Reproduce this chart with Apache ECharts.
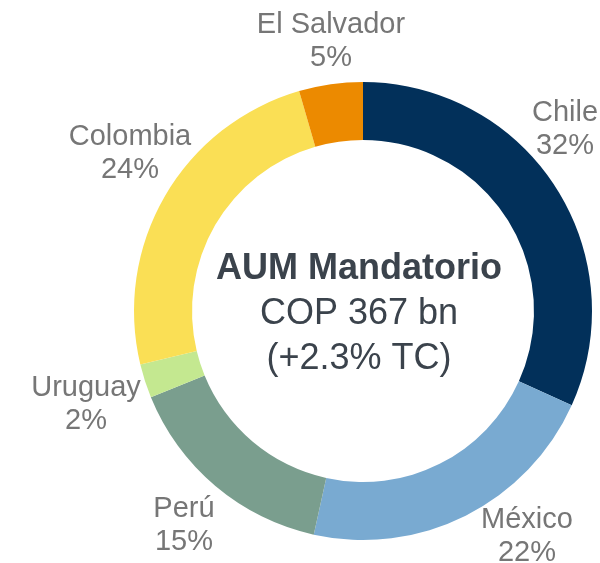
<!DOCTYPE html>
<html>
<head>
<meta charset="utf-8">
<title>AUM Mandatorio</title>
<script src="https://cdn.jsdelivr.net/npm/echarts@6/dist/echarts.min.js"></script>
<style>
    html, body { margin: 0; padding: 0; background: #ffffff; }
    #aumChart { width: 600px; height: 563px; }
</style>
</head>
<body>
<div id="aumChart"></div>
<script>

var paises = ['Chile', 'México', 'Perú', 'Uruguay', 'Colombia', 'El Salvador'];
var participacion = [31.75, 21.7, 15.4, 2.4, 24.25, 4.5];   /* % del AUM */
var colores = ['#02305A', '#79AAD1', '#7A9E8E', '#C4E890', '#FADF55', '#EC8A00'];

/* centro de cada etiqueta (en px), como en la lamina original */
var posEtiquetas = [[565, 129], [527, 536], [184, 525], [86, 404], [130, 153], [331, 41]];

var tituloCentro = 'AUM Mandatorio';
var lineasCentro = ['COP 367 bn', '(+2.3% TC)'];

function loadAumChart() {

    var aumChart = echarts.init(document.getElementById('aumChart'));

    var datos = [];
    for (var i = 0; i < paises.length; i++) {
        datos.push({
            value: participacion[i],
            name: paises[i],
            itemStyle: {color: colores[i]}
        });
    }

    var option = {
        backgroundColor: '#ffffff',
        animation: false,
        textStyle: {fontFamily: 'Liberation Sans, Arial, sans-serif'},
        graphic: [
            {
                type: 'text',
                x: 359,
                y: 314,
                style: {
                    text: '{b|' + tituloCentro + '}\n{n|' + lineasCentro[0] + '}\n{n|' + lineasCentro[1] + '}',
                    align: 'center',
                    verticalAlign: 'middle',
                    rich: {
                        b: {
                            fontSize: 36, fontWeight: 'bold', lineHeight: 45,
                            fill: '#3B434C', fontFamily: 'Liberation Sans, Arial, sans-serif'
                        },
                        n: {
                            fontSize: 36, lineHeight: 45,
                            fill: '#3B434C', fontFamily: 'Liberation Sans, Arial, sans-serif'
                        }
                    }
                }
            }
        ],
        series: [
            {
                name: 'AUM Mandatorio',
                type: 'pie',
                center: [363, 311],
                radius: [171, 229],
                startAngle: 90,
                clockwise: true,
                avoidLabelOverlap: false,
                percentPrecision: 0,
                label: {
                    show: true,
                    position: 'outside',
                    formatter: '{b}\n{d}%',
                    color: '#767676',
                    fontSize: 29,
                    lineHeight: 33,
                    fontFamily: 'Liberation Sans, Arial, sans-serif'
                },
                labelLine: {show: false},
                labelLayout: function (params) {
                    var p = posEtiquetas[params.dataIndex];
                    return {x: p[0], y: p[1], align: 'center', verticalAlign: 'middle'};
                },
                emphasis: {disabled: true},
                data: datos
            }
        ]
    };

    aumChart.setOption(option);
}

loadAumChart();

</script>
</body>
</html>
